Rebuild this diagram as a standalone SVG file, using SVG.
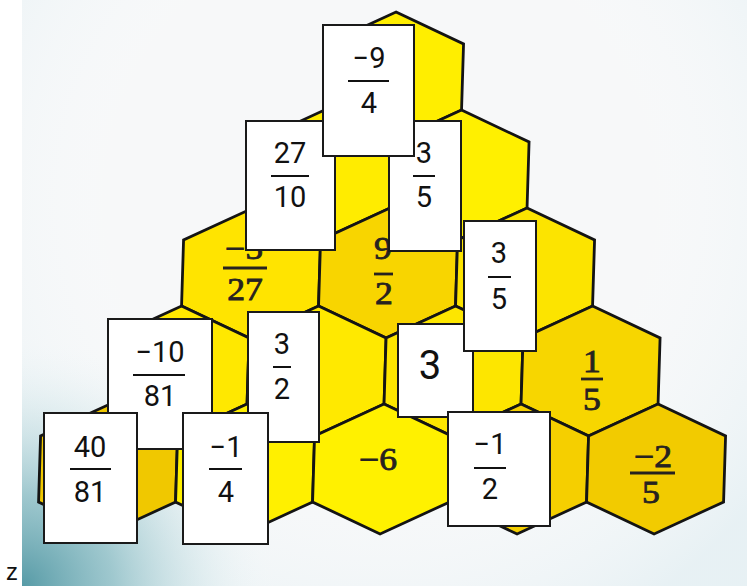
<svg xmlns="http://www.w3.org/2000/svg" xmlns:xlink="http://www.w3.org/1999/xlink" width="747" height="586" viewBox="0 0 747 586">
<defs>
<style>
.hex{stroke:#141414;stroke-width:2.8;stroke-linejoin:miter}
.card{fill:#fff;stroke:#1a1a1a;stroke-width:2}
.ct{font-family:Roboto,"Liberation Sans",sans-serif;font-size:29px;fill:#111;text-anchor:middle}
.cb{stroke:#111;stroke-width:2}
.ht{font-family:"Liberation Serif","Times New Roman",serif;font-size:31px;fill:#262220;stroke:#262220;stroke-width:0.8;text-anchor:middle}
.hb{stroke:#262220;stroke-width:2.8}
</style>
<path id="hx" d="M0,0 L68.5,32 L68.5,98 L0,130 L-68.5,98 L-68.5,32 Z"/>
<radialGradient id="teal" cx="22" cy="586" r="260" gradientUnits="userSpaceOnUse">
<stop offset="0" stop-color="#4f96a2" stop-opacity="0.95"/>
<stop offset="0.35" stop-color="#7fb6be" stop-opacity="0.7"/>
<stop offset="0.7" stop-color="#c6e0e4" stop-opacity="0.35"/>
<stop offset="1" stop-color="#ffffff" stop-opacity="0"/>
</radialGradient>
<radialGradient id="tint" cx="380" cy="200" r="480" gradientUnits="userSpaceOnUse">
<stop offset="0.5" stop-color="#ffffff" stop-opacity="0"/>
<stop offset="1" stop-color="#d4e8ee" stop-opacity="0.45"/>
</radialGradient>
<linearGradient id="g527" x1="0" y1="208" x2="0" y2="338" gradientUnits="userSpaceOnUse">
<stop offset="0" stop-color="#ffe400"/>
<stop offset="0.3" stop-color="#f4c800"/>
<stop offset="1" stop-color="#f0c200"/>
</linearGradient>
</defs>
<rect width="747" height="586" fill="#ffffff"/>
<g id="photo-bg">
<rect x="22" y="0" width="725" height="586" fill="#f7f8f9"/>
<rect x="22" y="0" width="725" height="586" fill="url(#tint)"/>
<rect x="22" y="300" width="420" height="286" fill="url(#teal)"/>
</g>
<g id="honeycomb" transform="skewX(-1.75)">
<g id="h00"><use xlink:href="#hx" x="396.4" y="12" class="hex" fill="#ffee00"/></g>
<g id="h10"><use xlink:href="#hx" x="327.9" y="110" class="hex" fill="#ffec00"/></g>
<g id="h11"><use xlink:href="#hx" x="464.9" y="110" class="hex" fill="#fff000"/></g>
<g id="h20"><use xlink:href="#hx" x="259.4" y="208" class="hex" fill="url(#g527)"/></g>
<g id="h21"><use xlink:href="#hx" x="396.4" y="208" class="hex" fill="#f8d500"/></g>
<g id="h22"><use xlink:href="#hx" x="533.4" y="208" class="hex" fill="#fce400"/></g>
<g id="h30"><use xlink:href="#hx" x="190.9" y="306" class="hex" fill="#ffe800"/></g>
<g id="h31"><use xlink:href="#hx" x="327.9" y="306" class="hex" fill="#ffe900"/></g>
<g id="h32"><use xlink:href="#hx" x="464.9" y="306" class="hex" fill="#fde600"/></g>
<g id="h33"><use xlink:href="#hx" x="601.9" y="306" class="hex" fill="#f7d600"/></g>
<g id="h40"><use xlink:href="#hx" x="122.4" y="404" class="hex" fill="#f0c800"/></g>
<g id="h41"><use xlink:href="#hx" x="259.4" y="404" class="hex" fill="#fff000"/></g>
<g id="h42"><use xlink:href="#hx" x="396.4" y="404" class="hex" fill="#fff100"/></g>
<g id="h43"><use xlink:href="#hx" x="533.4" y="404" class="hex" fill="#f5cf00"/></g>
<g id="h44"><use xlink:href="#hx" x="670.4" y="404" class="hex" fill="#f2cb00"/></g>
</g>
<g id="hex-labels">
<g id="l-m5-27"><text class="ht" transform="translate(244,259) scale(1.15,1)">−5</text><line class="hb" x1="223" y1="268" x2="267" y2="268"/><text class="ht" transform="translate(245,300) scale(1.15,1)">27</text></g>
<g id="l-9-2"><text class="ht" transform="translate(383,259) scale(1.15,1)">9</text><line class="hb" x1="374" y1="274" x2="393" y2="274"/><text class="ht" transform="translate(384,304) scale(1.15,1)">2</text></g>
<g id="l-1-5"><text class="ht" transform="translate(592,372) scale(1.15,1)">1</text><line class="hb" x1="581" y1="379" x2="603" y2="379"/><text class="ht" transform="translate(592,410) scale(1.15,1)">5</text></g>
<g id="l-m6"><text class="ht" transform="translate(378,470) scale(1.15,1)">−6</text></g>
<g id="l-m2-5"><text class="ht" transform="translate(653,467) scale(1.15,1)">−2</text><line class="hb" x1="630" y1="473" x2="675" y2="473"/><text class="ht" transform="translate(651,503) scale(1.15,1)">5</text></g>
</g>
<g id="cards">
<g id="c-27-10"><rect class="card" x="246" y="121" width="89" height="129"/><text class="ct" x="290" y="163">27</text><line class="cb" x1="271" y1="176" x2="309" y2="176"/><text class="ct" x="290" y="207">10</text></g>
<g id="c-3-5a"><rect class="card" x="389" y="121" width="72" height="130"/><text class="ct" x="424" y="163">3</text><line class="cb" x1="413" y1="176" x2="435" y2="176"/><text class="ct" x="424" y="207">5</text></g>
<g id="c-m9-4"><rect class="card" x="323" y="25" width="91" height="131"/><text class="ct" x="369" y="68">−9</text><line class="cb" x1="348" y1="81" x2="389" y2="81"/><text class="ct" x="369" y="113">4</text></g>
<g id="c-3"><rect class="card" x="398" y="324" width="75" height="93"/><text class="ct" x="430" y="379" style="font-size:40px">3</text></g>
<g id="c-3-5b"><rect class="card" x="464" y="221" width="72" height="130"/><text class="ct" x="499" y="263">3</text><line class="cb" x1="488" y1="277" x2="511" y2="277"/><text class="ct" x="499" y="309">5</text></g>
<g id="c-m10-81"><rect class="card" x="108" y="319" width="104" height="130"/><text class="ct" x="160" y="362">−10</text><line class="cb" x1="133" y1="375" x2="185" y2="375"/><text class="ct" x="160" y="406">81</text></g>
<g id="c-3-2"><rect class="card" x="248" y="312" width="71" height="130"/><text class="ct" x="282" y="354">3</text><line class="cb" x1="273" y1="367" x2="291" y2="367"/><text class="ct" x="282" y="399">2</text></g>
<g id="c-40-81"><rect class="card" x="44" y="413" width="93" height="130"/><text class="ct" x="90" y="457">40</text><line class="cb" x1="70" y1="469" x2="111" y2="469"/><text class="ct" x="90" y="502">81</text></g>
<g id="c-m1-4"><rect class="card" x="183" y="413" width="85" height="131"/><text class="ct" x="226" y="457">−1</text><line class="cb" x1="209" y1="469" x2="242" y2="469"/><text class="ct" x="226" y="502">4</text></g>
<g id="c-m1-2"><rect class="card" x="448" y="412" width="102" height="114"/><text class="ct" x="490" y="454">−1</text><line class="cb" x1="474" y1="468" x2="506" y2="468"/><text class="ct" x="490" y="499">2</text></g>
</g>
<text x="6" y="580" style="font-family:'Liberation Sans',Arial,sans-serif;font-size:24px;fill:#111">z</text>
</svg>
